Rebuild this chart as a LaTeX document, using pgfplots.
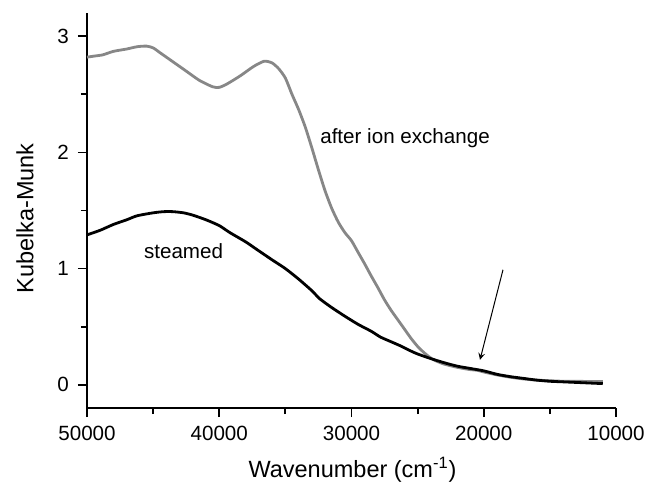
\documentclass[border=0pt]{standalone}
\usepackage{pgfplots}
\pgfplotsset{compat=1.18}
\usepackage{fontspec}
\setmainfont{Liberation Sans}
\definecolor{ionGray}{RGB}{135,135,135}

% Kubelka-Munk spectra: sample after ion exchange
\pgfplotstableread{
wn     km
50000  2.82
49400  2.83
48800  2.84
48000  2.87
47000  2.89
46200  2.91
45500  2.915
45000  2.90
44500  2.86
43500  2.78
42500  2.70
41500  2.62
40500  2.565
40000  2.56
39400  2.59
38400  2.66
37400  2.74
36600  2.785
36000  2.77
35500  2.72
35000  2.64
34500  2.50
34000  2.37
33500  2.22
33000  2.04
32500  1.85
32000  1.67
31500  1.52
31000  1.40
30500  1.31
30000  1.24
29500  1.14
29000  1.04
28500  0.935
28000  0.835
27500  0.73
27000  0.64
26500  0.56
26000  0.48
25500  0.40
25000  0.33
24500  0.275
24000  0.23
23500  0.20
23000  0.178
22000  0.15
21000  0.13
20500  0.125
20000  0.11
19000  0.085
18000  0.065
17000  0.05
16000  0.04
15000  0.035
14000  0.03
13000  0.03
12000  0.028
11000  0.027
}\ionexchanged

% Kubelka-Munk spectra: steamed sample
\pgfplotstableread{
wn     km
50000  1.29
49000  1.33
48000  1.38
47000  1.42
46200  1.455
45000  1.48
44200  1.49
43500  1.49
42700  1.48
42000  1.46
41000  1.42
40000  1.37
39200  1.31
38000  1.23
37100  1.16
36000  1.075
35000  1.00
34000  0.91
33000  0.81
32400  0.74
31500  0.665
30500  0.59
29500  0.52
28500  0.46
27800  0.41
27000  0.37
26300  0.335
25500  0.29
25000  0.265
24000  0.225
23000  0.19
22000  0.16
21000  0.14
20000  0.12
19000  0.09
18000  0.07
17000  0.055
16000  0.04
15000  0.03
14000  0.025
13000  0.02
12000  0.015
11000  0.01
}\steamed

\begin{document}
\begin{tikzpicture}
\begin{axis}[
  scale only axis,
  width=264.5bp, height=197.5bp,
  x dir=reverse,
  xmin=10000, xmax=50000,
  ymin=-0.2, ymax=3.2,
  axis x line=bottom, axis y line=left,
  axis line style={-, line width=1bp},
  xtick={10000,20000,30000,40000,50000},
  ytick={0,1,2,3},
  minor x tick num=1, minor y tick num=1,
  tick align=outside,
  major tick length=4.5bp, minor tick length=3bp,
  every tick/.style={line width=0.9bp, black},
  scaled ticks=false,
  /pgf/number format/assume math mode=true,
  /pgf/number format/set thousands separator={},
  tick label style={font=\fontsize{10.3bp}{12bp}\selectfont},
  xticklabel style={yshift=-1bp},
  yticklabel style={xshift=-1bp},
  xlabel={Wavenumber (cm\textsuperscript{-1})},
  ylabel={Kubelka-Munk},
  label style={font=\fontsize{11.75bp}{14bp}\selectfont},
  xlabel style={at={(axis description cs:0.502,-0.157)}, anchor=center},
  ylabel style={at={(axis description cs:-0.117,0.48)}, anchor=center},
  clip=false,
]
\addplot[ionGray, line width=1.4bp, smooth, tension=0.4] table[x=wn, y=km] {\ionexchanged};
\addplot[black, line width=1.4bp, smooth, tension=0.4] table[x=wn, y=km] {\steamed};

\node[font=\fontsize{10.3bp}{12bp}\selectfont] at (axis cs:25950,2.12) {after ion exchange};
\node[font=\fontsize{10.3bp}{12bp}\selectfont] at (axis cs:42700,1.15) {steamed};
\draw[-stealth, line width=0.5bp] (axis cs:18544,0.99) -- (axis cs:20283,0.215);
\end{axis}
\pgfresetboundingbox
\path[use as bounding box] (-43.5bp,-37bp) rectangle (280bp,204bp);
\end{tikzpicture}
\end{document}
